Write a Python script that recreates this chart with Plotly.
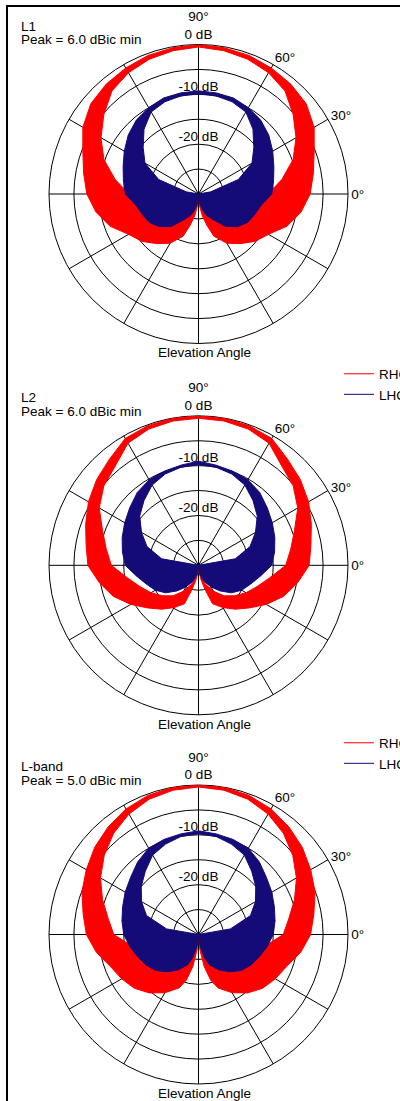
import plotly.graph_objects as go

# Elevation angles (deg) for the right-hand half of each cut; left half is the mirrored cut
ELEV = [-90, -85, -80, -75, -70, -60, -50, -40, -30, -20, -10, 0, 10, 20, 30, 40, 50, 60, 70, 80, 90]

# L1 (dB, normalised to peak)
L1_RHCP_MAX = [-30, -27.6, -25.5, -23.5, -21.0, -18.6, -17.0, -15.2, -13.8, -11.1, -9.1, -7.6, -6.6, -5.3, -3.2, -1.8, -1.2, -0.8, -0.4, -0.2, 0.0]
L1_RHCP_MIN = [-30, -29.5, -29.0, -28.3, -27.5, -26.0, -25.0, -23.5, -22.0, -20.0, -18.0, -16.0, -13.0, -9.8, -7.4, -5.2, -3.0, -1.9, -1.2, -0.8, -0.5]
L1_LHCP_MAX = [-30, -28.5, -27.5, -26.5, -25.5, -24.0, -21.5, -19.8, -18.6, -18.0, -17.2, -15.3, -14.7, -13.9, -12.8, -11.6, -10.6, -10.0, -9.5, -9.4, -9.3]
L1_LHCP_MIN = [-30, -30, -30, -30, -30, -30, -30, -30, -30, -30, -30, -30, -27.5, -21.5, -17.6, -15.5, -13.0, -11.0, -10.3, -10.0, -9.9]

# L2
L2_RHCP_MAX = [-30, -28.5, -27.0, -25.0, -21.8, -20.2, -18.5, -16.7, -14.3, -11.8, -9.8, -7.8, -7.1, -5.9, -4.5, -3.3, -2.2, -0.6, -0.2, 0.0, 0.0]
L2_RHCP_MIN = [-30, -29.0, -28.0, -27.0, -26.0, -24.0, -22.0, -20.5, -19.0, -17.5, -15.5, -12.5, -11.2, -9.5, -7.0, -5.2, -4.0, -1.7, -0.9, -0.6, -0.5]
L2_LHCP_MAX = [-30, -29.0, -28.0, -27.3, -26.5, -25.0, -23.3, -21.4, -20.0, -18.9, -17.4, -15.3, -14.5, -13.7, -12.9, -12.0, -10.9, -10.2, -9.9, -9.6, -9.1]
L2_LHCP_MIN = [-30, -30, -30, -30, -30, -30, -30, -30, -30, -30, -30, -30, -22.5, -19.0, -16.8, -14.6, -13.0, -11.4, -10.5, -10.0, -9.8]

# L-band
LB_RHCP_MAX = [-30, -27.0, -23.5, -20.5, -18.6, -16.5, -14.7, -13.2, -12.2, -11.2, -9.2, -7.5, -6.5, -5.1, -4.0, -2.8, -1.8, -0.9, -0.3, 0.0, 0.0]
LB_RHCP_MIN = [-30, -29.0, -28.0, -27.0, -26.0, -24.0, -22.5, -21.0, -19.5, -18.0, -16.5, -13.0, -11.6, -9.5, -7.3, -5.3, -3.5, -2.1, -1.1, -0.6, -0.4]
LB_LHCP_MAX = [-30, -28.5, -27.0, -25.0, -23.5, -21.8, -20.2, -18.8, -17.8, -17.0, -16.0, -15.0, -14.4, -13.8, -13.0, -12.2, -11.0, -10.0, -9.7, -9.5, -9.2]
LB_LHCP_MIN = [-30, -30, -30, -30, -30, -30, -30, -30, -30, -30, -30, -30, -23.5, -18.9, -16.8, -15.0, -13.4, -11.6, -10.7, -10.0, -9.8]

PANELS = [
    ("L1", "Peak = 6.0 dBic min", L1_RHCP_MAX, L1_RHCP_MIN, L1_LHCP_MAX, L1_LHCP_MIN),
    ("L2", "Peak = 6.0 dBic min", L2_RHCP_MAX, L2_RHCP_MIN, L2_LHCP_MAX, L2_LHCP_MIN),
    ("L-band", "Peak = 5.0 dBic min", LB_RHCP_MAX, LB_RHCP_MIN, LB_LHCP_MAX, LB_LHCP_MIN),
]
SERIES = ["RHCP", "LHCP"]
RADIAL_LABELS = ["-10 dB", "-20 dB"]
RADIAL_LABEL_R = [-10, -20]
ANG_TICKS = list(range(0, 360, 30))
ANG_TEXT = ["0°", "30°", "60°", "90°<br>0 dB"] + [""] * 8

RED = "#ff0000"
BLUE = "#140a78"
FONT = "Liberation Sans, Arial, sans-serif"
FS = 13.5

W, H = 400, 1101
R = 149.5
CX = 198.5
CENTERS_Y = [194.0, 565.3, 934.5]


def band(maxv, minv):
    th_out = ELEV + [180 - e for e in ELEV[::-1]]
    r_out = maxv + maxv[::-1]
    th_in = th_out[::-1]
    r_in = minv + minv[::-1]
    return th_out + th_in, r_out + r_in


fig = go.Figure()
for i, (name, peak, rmax, rmin, lmax, lmin) in enumerate(PANELS):
    sp = "polar" if i == 0 else f"polar{i + 1}"
    lg = "legend" if i == 0 else f"legend{i + 1}"
    for sname, mx, mn, col in [("RHCP", rmax, rmin, RED), ("LHCP", lmax, lmin, BLUE)]:
        th, rr = band(mx, mn)
        fig.add_trace(go.Scatterpolar(
            r=rr, theta=th, mode="lines", fill="toself", fillcolor=col,
            line=dict(color=col, width=1), subplot=sp, showlegend=False,
            hoverinfo="skip"))
    fig.add_trace(go.Scatterpolar(
        r=RADIAL_LABEL_R, theta=[90] * len(RADIAL_LABEL_R), mode="text",
        text=RADIAL_LABELS, textposition="top center",
        textfont=dict(size=FS, color="black", family=FONT),
        subplot=sp, showlegend=False, hoverinfo="skip"))
    if i < 2:
        for sname, col in [("RHCP", RED), ("LHCP", BLUE)]:
            fig.add_trace(go.Scatterpolar(
                r=[None], theta=[None], mode="lines", name=sname,
                line=dict(color=col, width=1), subplot=sp, legend=lg))

    cy = CENTERS_Y[i]
    dom_x = [(CX - R) / W, (CX + R) / W]
    dom_y = [(H - cy - R) / H, (H - cy + R) / H]
    polar = dict(
        domain=dict(x=dom_x, y=dom_y),
        bgcolor="white",
        radialaxis=dict(range=[-30, 0], tickvals=[-30, -25, -20, -15, -10, -5, 0],
                        showticklabels=False, ticks="", showline=False,
                        gridcolor="black", gridwidth=1, layer="below traces"),
        angularaxis=dict(rotation=0, direction="counterclockwise",
                         tickmode="array", tickvals=ANG_TICKS, ticktext=ANG_TEXT,
                         ticks="", showline=True, linecolor="black", linewidth=1,
                         gridcolor="black", gridwidth=1, layer="below traces",
                         tickfont=dict(size=FS, color="black", family=FONT)),
    )
    fig.update_layout({sp: polar})

    fig.add_annotation(x=19 / W, y=(H - (cy - 168)) / H, xref="paper", yref="paper",
                       xanchor="left", yanchor="middle", showarrow=False,
                       text=name, font=dict(size=FS, color="black", family=FONT))
    fig.add_annotation(x=19 / W, y=(H - (cy - 154)) / H, xref="paper", yref="paper",
                       xanchor="left", yanchor="middle", showarrow=False,
                       text=peak, font=dict(size=FS, color="black", family=FONT))
    fig.add_annotation(x=204 / W, y=(H - (cy + 159)) / H, xref="paper", yref="paper",
                       xanchor="center", yanchor="middle", showarrow=False,
                       text="Elevation Angle", font=dict(size=FS, color="black", family=FONT))

legend_common = dict(xanchor="left", yanchor="top", bgcolor="rgba(0,0,0,0)",
                     xref="paper", yref="paper",
                     font=dict(size=FS, color="black", family=FONT),
                     tracegroupgap=0, itemwidth=30)
fig.update_layout(
    legend=dict(x=339 / W, y=(H - 358.5) / H, **legend_common),
    legend2=dict(x=339 / W, y=(H - 727.5) / H, **legend_common),
)

fig.add_shape(type="rect", xref="paper", yref="paper",
              x0=7 / W, x1=1.2, y0=-0.1, y1=(H - 6) / H,
              line=dict(color="black", width=2), fillcolor="rgba(0,0,0,0)")

fig.update_layout(
    width=W, height=H,
    margin=dict(l=0, r=0, t=0, b=0, autoexpand=False),
    paper_bgcolor="white", plot_bgcolor="white",
    font=dict(family=FONT, size=FS, color="black"),
)

fig.write_html("out.html", config={"responsive": False, "displayModeBar": False},
               post_script="document.body.style.margin='0px';")
